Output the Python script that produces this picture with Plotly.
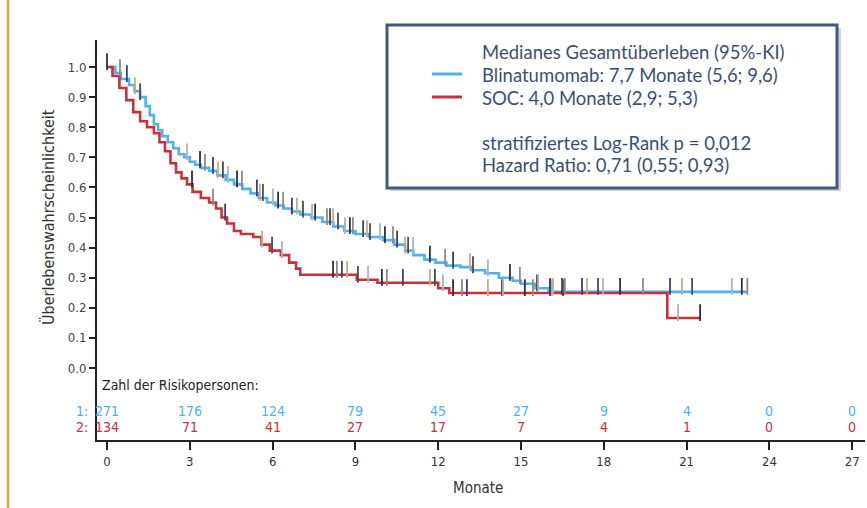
import numpy as np
import plotly.graph_objects as go

# ---------------- data ----------------
x_ticks = [0, 3, 6, 9, 12, 15, 18, 21, 24, 27]
y_ticks = [0.0, 0.1, 0.2, 0.3, 0.4, 0.5, 0.6, 0.7, 0.8, 0.9, 1.0]

blin_t = [0, 0.3, 0.5, 0.8, 1.0, 1.2, 1.4, 1.55, 1.7, 1.85, 2.0, 2.2, 2.4, 2.6, 2.8, 3.0,
          3.2, 3.4, 3.7, 4.0, 4.3, 4.6, 4.9, 5.2, 5.5, 5.8, 6.1, 6.4, 6.7, 7.0, 7.4, 7.8,
          8.2, 8.6, 9.0, 9.5, 10.0, 10.4, 10.8, 11.1, 11.5, 11.9, 12.3, 12.8, 13.2, 13.7,
          14.2, 14.7, 15.0, 15.5, 16.0, 23.2]
blin_s = [1.0, 0.98, 0.96, 0.94, 0.92, 0.90, 0.87, 0.84, 0.81, 0.79, 0.77, 0.75, 0.73, 0.71,
          0.70, 0.685, 0.675, 0.665, 0.655, 0.64, 0.625, 0.61, 0.595, 0.58, 0.565, 0.55, 0.54,
          0.53, 0.52, 0.51, 0.50, 0.485, 0.47, 0.455, 0.445, 0.435, 0.425, 0.41, 0.39, 0.375,
          0.36, 0.35, 0.34, 0.335, 0.325, 0.315, 0.30, 0.29, 0.28, 0.265, 0.253, 0.253]

soc_t = [0, 0.2, 0.45, 0.7, 0.95, 1.2, 1.45, 1.7, 1.9, 2.1, 2.3, 2.5, 2.7, 2.9, 3.1, 3.4,
         3.7, 3.95, 4.15, 4.35, 4.6, 4.85, 5.3, 5.6, 5.9, 6.3, 6.6, 6.85, 7.0, 9.05, 9.8,
         12.0, 12.4, 20.3, 21.5]
soc_s = [1.0, 0.97, 0.93, 0.89, 0.85, 0.82, 0.80, 0.78, 0.75, 0.72, 0.68, 0.65, 0.63, 0.61,
         0.585, 0.565, 0.55, 0.53, 0.50, 0.48, 0.455, 0.445, 0.435, 0.41, 0.39, 0.375, 0.35,
         0.33, 0.31, 0.293, 0.283, 0.265, 0.249, 0.166, 0.166]

blin_censor_t = [0.0, 0.47, 0.72, 1.01, 1.2, 2.9, 3.37, 3.55, 3.84, 4.02, 4.2, 4.38, 4.71, 4.89,
                 5.43, 5.54, 5.65, 6.01, 6.2, 6.38, 6.7, 6.88, 7.1, 7.43, 7.54, 7.97, 8.08, 8.19,
                 8.37, 8.62, 8.8, 8.91, 9.28, 9.42, 9.53, 9.89, 10.07, 10.36, 10.51, 10.8, 10.91,
                 11.09, 11.7, 12.25, 12.54, 13.15, 13.26, 13.8, 14.6, 14.96, 15.58, 15.62, 16.05,
                 16.16, 16.49, 16.59, 17.21, 17.39, 17.79, 17.97, 18.59, 19.42, 20.4, 20.83, 21.2,
                 22.64, 23.0, 23.2]
soc_censor_t = [3.08, 3.84, 4.28, 5.62, 5.98, 6.34, 8.19, 8.33, 8.51, 8.7, 9.09, 9.46, 9.96,
                10.14, 10.72, 11.7, 11.88, 12.17, 12.54, 12.86, 13.04, 13.8, 14.31, 14.35, 15.14,
                15.43, 16.05, 16.12, 16.52, 20.69, 21.49]

risk_blin = [271, 176, 124, 79, 45, 27, 9, 4, 0, 0]
risk_soc = [134, 71, 41, 27, 17, 7, 4, 1, 0, 0]

legend_lines = ["Medianes Gesamtüberleben (95%-KI)",
                "Blinatumomab: 7,7 Monate (5,6; 9,6)",
                "SOC: 4,0 Monate (2,9; 5,3)",
                "",
                "stratifiziertes Log-Rank p = 0,012",
                "Hazard Ratio: 0,71 (0,55; 0,93)"]

# ---------------- styles ----------------
BLUE = "#4fb2ea"
RED = "#c8303c"
NAVY = "#3e5a80"
TXT = "#3b4f70"
NARROW = "Liberation Sans Narrow, DejaVu Sans Condensed, Arial Narrow, sans-serif"
W, H = 867, 508
ML, MR, MT, MB = 97, 2, 40, 68
PW, PH = W - ML - MR, H - MT - MB


def px_x(px):
    return (px - ML) / PW


def px_y(py):
    return (H - MB - py) / PH


def step_value(t, s, q):
    idx = np.searchsorted(np.asarray(t), np.asarray(q), side="right") - 1
    return np.asarray(s)[idx]


censor_cols = ["#2b2e48", "#8f8a88", "#3a3f70", "#c6ab86", "#4a4a52", "#a9b4c8"]

fig = go.Figure()
fig.add_trace(go.Scatter(x=blin_t, y=blin_s, mode="lines", line=dict(color=BLUE, width=2.6, shape="hv"),
                         showlegend=False, hoverinfo="skip"))
fig.add_trace(go.Scatter(x=soc_t, y=soc_s, mode="lines", line=dict(color=RED, width=2.6, shape="hv"),
                         showlegend=False, hoverinfo="skip"))

for ct, (t, s) in ((blin_censor_t, (blin_t, blin_s)), (soc_censor_t, (soc_t, soc_s))):
    yv = step_value(t, s, ct) + 0.018
    cols = [censor_cols[i % len(censor_cols)] for i in range(len(ct))]
    fig.add_trace(go.Scatter(x=ct, y=yv, mode="markers", showlegend=False, hoverinfo="skip",
                             marker=dict(symbol="line-ns", size=12, line=dict(width=1.8, color=cols))))

anns = []
# risk table
anns.append(dict(x=-0.25, y=-0.056, xref="x", yref="y", text="Zahl der Risikopersonen:", showarrow=False,
                 xanchor="left", font=dict(family=NARROW, size=14, color="#222")))
for xv, b, r in zip(x_ticks, risk_blin, risk_soc):
    anns.append(dict(x=xv, y=-0.143, xref="x", yref="y", text=str(b), showarrow=False,
                     font=dict(family=NARROW, size=14, color=BLUE)))
    anns.append(dict(x=xv, y=-0.196, xref="x", yref="y", text=str(r), showarrow=False,
                     font=dict(family=NARROW, size=14, color=RED)))
anns.append(dict(x=px_x(90), y=-0.143, xref="paper", yref="y", text="1:", showarrow=False, xanchor="right",
                 font=dict(family=NARROW, size=14, color=BLUE)))
anns.append(dict(x=px_x(90), y=-0.196, xref="paper", yref="y", text="2:", showarrow=False, xanchor="right",
                 font=dict(family=NARROW, size=14, color=RED)))
# axis titles
anns.append(dict(x=px_x(37), y=0.5, xref="paper", yref="y", text="Überlebenswahrscheinlichkeit",
                 textangle=-90, showarrow=False, font=dict(family=NARROW, size=16, color="#333")))
anns.append(dict(x=px_x(478), y=px_y(488), xref="paper", yref="paper", text="Monate", showarrow=False,
                 yanchor="middle", font=dict(family=NARROW, size=15, color="#333")))
# legend box text
line_py = [52, 75, 98, 120, 143, 165]
for txt, py in zip(legend_lines, line_py):
    if txt:
        anns.append(dict(x=px_x(480), y=px_y(py), xref="paper", yref="paper", text=txt, showarrow=False,
                         xanchor="left", yanchor="middle", font=dict(family="Lato, Open Sans, sans-serif",
                                                                      size=18.5, color=TXT)))

shapes = [
    # shadow and box
    dict(type="rect", xref="paper", yref="paper", x0=px_x(390), x1=px_x(841), y0=px_y(28), y1=px_y(191),
         line=dict(width=0), fillcolor="rgba(120,130,150,0.35)", layer="above"),
    dict(type="rect", xref="paper", yref="paper", x0=px_x(387), x1=px_x(837), y0=px_y(25), y1=px_y(188),
         line=dict(width=3, color=NAVY), fillcolor="white", layer="above"),
    dict(type="line", xref="paper", yref="paper", x0=px_x(432), x1=px_x(462), y0=px_y(74), y1=px_y(74),
         line=dict(width=3, color=BLUE)),
    dict(type="line", xref="paper", yref="paper", x0=px_x(432), x1=px_x(462), y0=px_y(97), y1=px_y(97),
         line=dict(width=3, color=RED)),
    # orange frame line
    dict(type="line", xref="paper", yref="paper", x0=px_x(8), x1=px_x(8), y0=px_y(0), y1=px_y(508),
         line=dict(width=2.5, color="#eaa23a")),
]

fig.update_layout(
    width=W, height=H, margin=dict(l=ML, r=MR, t=MT, b=MB), paper_bgcolor="white", plot_bgcolor="white",
    annotations=anns, shapes=shapes,
    xaxis=dict(range=[(ML - 107) / 27.6, (W - MR - 107) / 27.6], tickvals=x_ticks,
               ticktext=[str(v) for v in x_ticks], showgrid=False, zeroline=False, showline=True,
               linecolor="#222", linewidth=2, ticks="outside", ticklen=8, tickwidth=2, tickcolor="#222",
               tickfont=dict(family=NARROW, size=13, color="#333")),
    yaxis=dict(range=[(368 - (H - MB)) / 301, (368 - MT) / 301], tickvals=y_ticks,
               ticktext=[f"{v:.1f}" for v in y_ticks], showgrid=False, zeroline=False, showline=True,
               linecolor="#222", linewidth=2, ticks="outside", ticklen=6, tickwidth=2, tickcolor="#222",
               tickfont=dict(family=NARROW, size=13, color="#444")),
)

fig.write_html("out.html", config={"displayModeBar": False},
               post_script="document.body.style.margin='0';")
